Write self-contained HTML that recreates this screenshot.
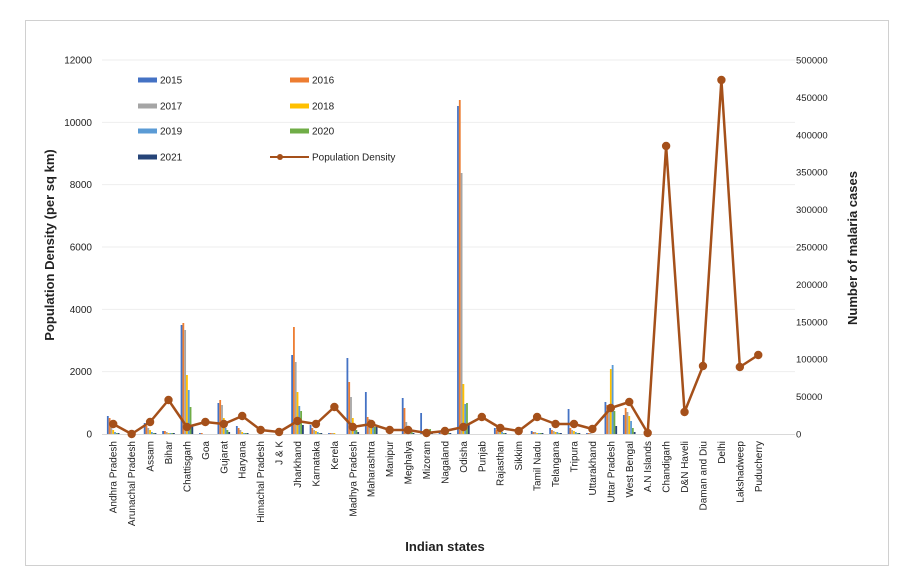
<!DOCTYPE html>
<html><head><meta charset="utf-8"><style>
body{margin:0;background:#fff}
svg text{font-family:"Liberation Sans",Arial,sans-serif;fill:#222}
</style></head><body>
<svg id="s" width="904" height="582" xmlns="http://www.w3.org/2000/svg">
<rect x="25.5" y="20.5" width="863" height="545" fill="#fff" stroke="#d0d0d0"/>
</svg>
<script>
(function(){
const s=document.getElementById('s');const NS='http://www.w3.org/2000/svg';
function el(t,a,txt){const e=document.createElementNS(NS,t);for(const k in a)e.setAttribute(k,a[k]);if(txt!=null)e.textContent=txt;s.appendChild(e);return e;}
const y0=434,yTop=60;
for(let i=0;i<=6;i++){const y=y0-i*(y0-yTop)/6;
 if(i>0)el('line',{x1:102,x2:795,y1:y,y2:y,stroke:'#eeeeee','stroke-width':1});
 el('text',{x:92,y:y+3.5,'font-size':10,'text-anchor':'end'},String(i*2000));}
for(let i=0;i<=10;i++){const y=y0-i*(y0-yTop)/10;el('text',{x:796,y:y+3.5,'font-size':9.5},String(i*50000));}
el('line',{x1:102,x2:795,y1:y0+0.5,y2:y0+0.5,stroke:'#d9d9d9'});
const states=["Andhra Pradesh","Arunachal Pradesh","Assam","Bihar","Chattisgarh","Goa","Gujarat","Haryana","Himachal Pradesh","J & K","Jharkhand","Karnataka","Kerela","Madhya Pradesh","Maharashtra","Manipur","Meghalya","Mizoram","Nagaland","Odisha","Punjab","Rajasthan","Sikkim","Tamil Nadu","Telangana","Tripura","Uttarakhand","Uttar Pradesh","West Bengal","A.N Islands","Chandigarh","D&N Haveli","Daman and Diu","Delhi","Lakshadweep","Puducherry"];
const cw=18.43,x0=104;
const cx=i=>x0+cw/2+cw*i;
const cols=['#4472c4','#ed7d31','#a5a5a5','#ffc000','#5b9bd5','#70ad47','#264478'];
const bars={0:[416,418,426,430,432,433,433],2:[423,426,428,430,432,433,433],3:[431,431,432,433,433,433,433],4:[325,323,330,375,390,407,425],5:[433,433,434,434,434,434,434],6:[403,400,405,418,428,430,432],7:[426,428,430,432,433,433,433],10:[355,327,362,392,406,411,425],11:[425,428,430,431,432,433,433],12:[433,433,433,433,434,434,434],13:[358,382,397,418,427,430,432],14:[392,417,419,421,425,427,427],16:[398,408,422,428,431,432,433],17:[413,432,432,432,431,429,433],18:[432,433,433,433,433,433,433],19:[106,100,173,384,404,403,424],21:[428,430,431,432,432,433,433],23:[431,432,432,433,433,433,433],24:[428,430,431,432,432,433,433],25:[409,428,430,431,432,433,433],26:[433,433,433,434,434,434,434],27:[402,405,410,369,365,411,426],28:[415,408,412,416,421,428,432]};
for(const k in bars){bars[k].forEach((t,j)=>{const x=cx(+k)-6.3+j*1.8;el('rect',{x:x,y:t,width:1.8,height:Math.max(0,434-t),fill:cols[j]});});}
const line=[424,434,422,400,427,422,424,416,430,432,421,424,407,427,424,430,430,433,431,427,417,428,431,417,424,424,429,408,402,433,146,412,366,80,367,355];
el('polyline',{points:line.map((y,i)=>cx(i)+','+y).join(' '),fill:'none',stroke:'#a5501a','stroke-width':2.5,'stroke-linejoin':'round'});
line.forEach((y,i)=>el('circle',{cx:cx(i),cy:y,r:4.2,fill:'#a5501a'}));
states.forEach((n,i)=>{const x=cx(i)+3.5;el('text',{x:0,y:0,'font-size':10,'text-anchor':'end',transform:`translate(${x},441) rotate(-90)`},n);});
const L=[['2015',0,138,80],['2016',1,290,80],['2017',2,138,106],['2018',3,290,106],['2019',4,138,131],['2020',5,290,131],['2021',6,138,157]];
L.forEach(([t,c,x,y])=>{el('rect',{x:x,y:y-2.5,width:19,height:5,fill:cols[c]});el('text',{x:x+22,y:y+3.5,'font-size':10},t);});
el('line',{x1:270,x2:309,y1:157,y2:157,stroke:'#a5501a','stroke-width':2});
el('circle',{cx:280,cy:157,r:3,fill:'#a5501a'});
el('text',{x:312,y:160.5,'font-size':10},'Population Density');
el('text',{x:0,y:0,'font-size':13,'font-weight':'bold','text-anchor':'middle',transform:'translate(54,245) rotate(-90)'},'Population Density (per sq km)');
el('text',{x:0,y:0,'font-size':13,'font-weight':'bold','text-anchor':'middle',transform:'translate(857,248) rotate(-90)'},'Number of malaria cases');
el('text',{x:445,y:551,'font-size':13,'font-weight':'bold','text-anchor':'middle'},'Indian states');
})();
</script>
</body></html>
